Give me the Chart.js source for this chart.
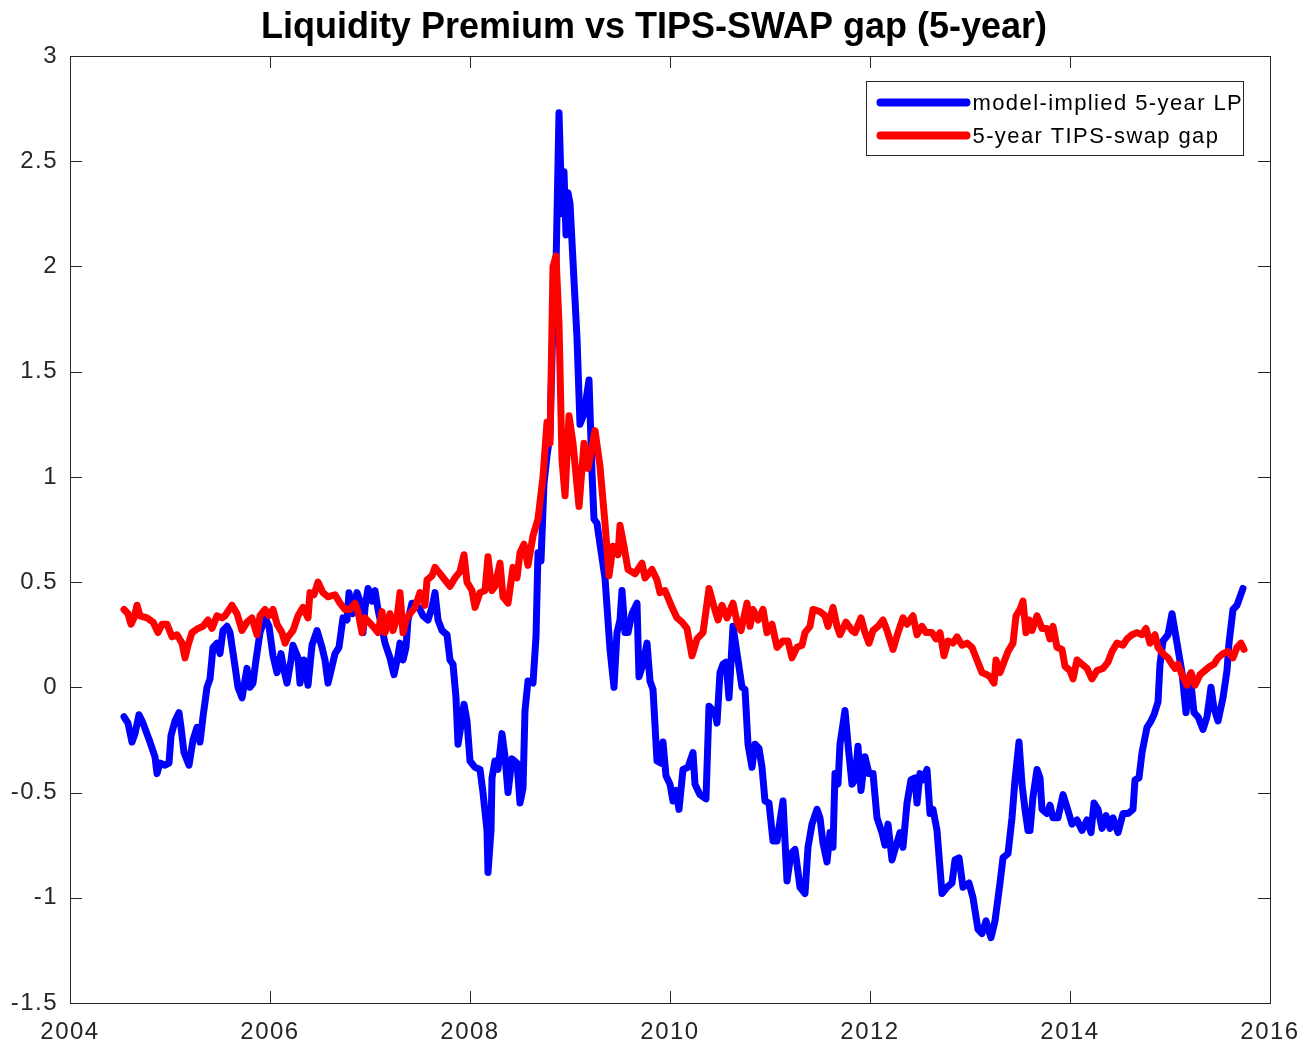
<!DOCTYPE html>
<html>
<head>
<meta charset="utf-8">
<script src="https://cdn.jsdelivr.net/npm/chart.js@4/dist/chart.umd.min.js"></script>
<style>
  html, body { margin: 0; padding: 0; background: #fff; }
  #wrap { width: 1308px; height: 1047px; position: relative; }
</style>
</head>
<body>
<div id="wrap"><canvas id="chart"></canvas></div>
<script>
// ── data (decimal years, percentage points) ─────────────────
const lpYears = [
  2004.54, 2004.58, 2004.62, 2004.65, 2004.69, 2004.73, 2004.80, 2004.85, 2004.87, 2004.90,
  2004.95, 2004.99, 2005.01, 2005.05, 2005.09, 2005.11, 2005.14, 2005.19, 2005.23, 2005.27,
  2005.30, 2005.33, 2005.37, 2005.40, 2005.43, 2005.47, 2005.50, 2005.53, 2005.57, 2005.60,
  2005.65, 2005.68, 2005.72, 2005.77, 2005.80, 2005.83, 2005.86, 2005.90, 2005.95, 2005.99,
  2006.03, 2006.07, 2006.11, 2006.14, 2006.17, 2006.21, 2006.23, 2006.28, 2006.30, 2006.34,
  2006.38, 2006.42, 2006.47, 2006.52, 2006.55, 2006.58, 2006.65, 2006.69, 2006.73, 2006.77,
  2006.79, 2006.83, 2006.87, 2006.90, 2006.93, 2006.95, 2006.98, 2007.02, 2007.05, 2007.08,
  2007.15, 2007.20, 2007.24, 2007.28, 2007.30, 2007.33, 2007.36, 2007.38, 2007.42, 2007.45,
  2007.50, 2007.53, 2007.58, 2007.62, 2007.65, 2007.68, 2007.72, 2007.77, 2007.80, 2007.83,
  2007.86, 2007.88, 2007.92, 2007.94, 2007.97, 2008.00, 2008.05, 2008.10, 2008.13, 2008.17,
  2008.18, 2008.21, 2008.22, 2008.25, 2008.28, 2008.32, 2008.35, 2008.38, 2008.42, 2008.47,
  2008.50, 2008.53, 2008.55, 2008.58, 2008.63, 2008.66, 2008.68, 2008.71, 2008.74, 2008.77,
  2008.80, 2008.83, 2008.86, 2008.89, 2008.92, 2008.94, 2008.96, 2008.98, 2009.00, 2009.07,
  2009.10, 2009.14, 2009.19, 2009.22, 2009.24, 2009.27, 2009.30, 2009.35, 2009.40, 2009.44,
  2009.47, 2009.50, 2009.52, 2009.55, 2009.58, 2009.62, 2009.67, 2009.69, 2009.73, 2009.77,
  2009.80, 2009.83, 2009.87, 2009.91, 2009.93, 2009.96, 2010.00, 2010.03, 2010.06, 2010.09,
  2010.13, 2010.18, 2010.23, 2010.25, 2010.30, 2010.36, 2010.39, 2010.45, 2010.47, 2010.50,
  2010.53, 2010.56, 2010.59, 2010.63, 2010.68, 2010.72, 2010.75, 2010.78, 2010.82, 2010.85,
  2010.89, 2010.92, 2010.95, 2010.99, 2011.03, 2011.07, 2011.13, 2011.17, 2011.21, 2011.25,
  2011.30, 2011.35, 2011.38, 2011.42, 2011.47, 2011.50, 2011.53, 2011.57, 2011.60, 2011.63,
  2011.65, 2011.68, 2011.70, 2011.75, 2011.78, 2011.82, 2011.85, 2011.88, 2011.91, 2011.95,
  2011.99, 2012.03, 2012.07, 2012.12, 2012.15, 2012.18, 2012.22, 2012.25, 2012.30, 2012.33,
  2012.37, 2012.41, 2012.45, 2012.47, 2012.50, 2012.53, 2012.57, 2012.60, 2012.63, 2012.67,
  2012.70, 2012.72, 2012.77, 2012.82, 2012.85, 2012.89, 2012.93, 2012.99, 2013.03, 2013.08,
  2013.12, 2013.16, 2013.21, 2013.25, 2013.30, 2013.33, 2013.38, 2013.42, 2013.45, 2013.49,
  2013.52, 2013.55, 2013.58, 2013.60, 2013.63, 2013.67, 2013.70, 2013.72, 2013.77, 2013.80,
  2013.83, 2013.88, 2013.93, 2013.97, 2014.02, 2014.07, 2014.12, 2014.17, 2014.21, 2014.24,
  2014.28, 2014.32, 2014.36, 2014.40, 2014.43, 2014.48, 2014.53, 2014.58, 2014.63, 2014.65,
  2014.69, 2014.72, 2014.77, 2014.81, 2014.84, 2014.88, 2014.90, 2014.93, 2014.98, 2015.02,
  2015.07, 2015.12, 2015.16, 2015.20, 2015.24, 2015.28, 2015.33, 2015.37, 2015.41, 2015.44,
  2015.48, 2015.53, 2015.57, 2015.59, 2015.63, 2015.67, 2015.73,
];
const lpValues = [
  -0.14, -0.17, -0.26, -0.22, -0.13, -0.17, -0.26, -0.33, -0.41, -0.36,
  -0.37, -0.36, -0.23, -0.16, -0.12, -0.19, -0.31, -0.37, -0.25, -0.19,
  -0.26, -0.14,  0.00,  0.04,  0.19,  0.21,  0.16,  0.27,  0.29,  0.26,
   0.10,  0.00, -0.05,  0.09,  0.00,  0.02,  0.13,  0.26,  0.33,  0.29,
   0.15,  0.07,  0.16,  0.08,  0.02,  0.13,  0.20,  0.14,  0.02,  0.13,
   0.01,  0.20,  0.27,  0.19,  0.13,  0.02,  0.16,  0.19,  0.33,  0.32,
   0.45,  0.35,  0.45,  0.41,  0.26,  0.38,  0.47,  0.41,  0.46,  0.37,
   0.21,  0.14,  0.06,  0.15,  0.21,  0.13,  0.19,  0.32,  0.40,  0.40,
   0.37,  0.34,  0.32,  0.38,  0.45,  0.32,  0.27,  0.25,  0.13,  0.11,
  -0.05, -0.27, -0.15, -0.08, -0.16, -0.35, -0.38, -0.39, -0.50, -0.68,
  -0.88, -0.68, -0.43, -0.35, -0.39, -0.22, -0.33, -0.50, -0.34, -0.36,
  -0.55, -0.48, -0.11,  0.03,  0.02,  0.24,  0.64,  0.60,  0.97,  1.10,
   1.20,  1.75,  2.00,  2.73,  2.25,  2.45,  2.15,  2.35,  2.30,  1.66,
   1.25,  1.30,  1.46,  1.02,  0.80,  0.78,  0.68,  0.52,  0.18,  0.00,
   0.26,  0.32,  0.46,  0.26,  0.26,  0.35,  0.40,  0.05,  0.11,  0.21,
   0.03, -0.01, -0.35, -0.36, -0.26, -0.42, -0.46, -0.54, -0.49, -0.58,
  -0.39, -0.38, -0.31, -0.46, -0.51, -0.53, -0.09, -0.12, -0.17,  0.07,
   0.11,  0.12, -0.05,  0.29,  0.13,  0.00, -0.01, -0.27, -0.38, -0.27,
  -0.29, -0.38, -0.54, -0.55, -0.73, -0.73, -0.54, -0.92, -0.79, -0.77,
  -0.95, -0.98, -0.76, -0.65, -0.58, -0.62, -0.74, -0.83, -0.69, -0.76,
  -0.41, -0.46, -0.27, -0.11, -0.27, -0.46, -0.44, -0.28, -0.49, -0.33,
  -0.41, -0.41, -0.62, -0.69, -0.75, -0.65, -0.82, -0.77, -0.69, -0.76,
  -0.55, -0.44, -0.43, -0.55, -0.41, -0.44, -0.39, -0.60, -0.58, -0.68,
  -0.86, -0.98, -0.95, -0.93, -0.82, -0.81, -0.95, -0.93, -1.00, -1.15,
  -1.17, -1.11, -1.19, -1.11, -0.93, -0.81, -0.79, -0.62, -0.44, -0.26,
  -0.46, -0.58, -0.68, -0.68, -0.52, -0.39, -0.43, -0.58, -0.60, -0.56,
  -0.62, -0.62, -0.51, -0.57, -0.65, -0.63, -0.68, -0.63, -0.69, -0.55,
  -0.58, -0.67, -0.61, -0.67, -0.62, -0.69, -0.60, -0.60, -0.58, -0.44,
  -0.43, -0.31, -0.19, -0.16, -0.13, -0.07,  0.11,  0.22,  0.25,  0.35,
   0.21,  0.07, -0.12,  0.06, -0.12, -0.14, -0.20, -0.14,  0.00, -0.10,
  -0.16, -0.05,  0.08,  0.21,  0.37,  0.39,  0.47,
];

const gapYears = [
  2004.54, 2004.58, 2004.61, 2004.64, 2004.67, 2004.70, 2004.77, 2004.83, 2004.88, 2004.92,
  2004.97, 2005.02, 2005.07, 2005.12, 2005.15, 2005.18, 2005.22, 2005.28, 2005.33, 2005.38,
  2005.42, 2005.47, 2005.52, 2005.55, 2005.62, 2005.67, 2005.72, 2005.77, 2005.82, 2005.87,
  2005.90, 2005.95, 2005.99, 2006.03, 2006.07, 2006.12, 2006.15, 2006.18, 2006.23, 2006.28,
  2006.33, 2006.38, 2006.40, 2006.44, 2006.48, 2006.53, 2006.58, 2006.65, 2006.70, 2006.75,
  2006.80, 2006.85, 2006.88, 2006.92, 2006.95, 2006.99, 2007.03, 2007.08, 2007.12, 2007.15,
  2007.20, 2007.23, 2007.27, 2007.30, 2007.33, 2007.36, 2007.40, 2007.45, 2007.50, 2007.55,
  2007.57, 2007.62, 2007.65, 2007.70, 2007.75, 2007.80, 2007.85, 2007.90, 2007.94, 2007.97,
  2008.02, 2008.05, 2008.10, 2008.15, 2008.18, 2008.22, 2008.25, 2008.30, 2008.33, 2008.38,
  2008.43, 2008.47, 2008.50, 2008.54, 2008.58, 2008.63, 2008.68, 2008.73, 2008.77, 2008.80,
  2008.83, 2008.86, 2008.89, 2008.92, 2008.95, 2008.99, 2009.03, 2009.09, 2009.14, 2009.18,
  2009.25, 2009.30, 2009.35, 2009.39, 2009.43, 2009.48, 2009.50, 2009.54, 2009.58, 2009.65,
  2009.72, 2009.75, 2009.82, 2009.87, 2009.90, 2009.95, 2010.02, 2010.07, 2010.12, 2010.17,
  2010.22, 2010.27, 2010.33, 2010.39, 2010.43, 2010.48, 2010.52, 2010.57, 2010.63, 2010.67,
  2010.71, 2010.77, 2010.80, 2010.83, 2010.88, 2010.93, 2010.97, 2011.02, 2011.07, 2011.13,
  2011.18, 2011.22, 2011.27, 2011.32, 2011.35, 2011.40, 2011.43, 2011.50, 2011.55, 2011.58,
  2011.63, 2011.67, 2011.70, 2011.76, 2011.82, 2011.85, 2011.91, 2011.95, 2011.99, 2012.03,
  2012.08, 2012.13, 2012.17, 2012.23, 2012.28, 2012.33, 2012.37, 2012.43, 2012.47, 2012.52,
  2012.56, 2012.62, 2012.66, 2012.70, 2012.74, 2012.78, 2012.83, 2012.87, 2012.92, 2012.97,
  2013.02, 2013.07, 2013.12, 2013.17, 2013.20, 2013.24, 2013.26, 2013.30, 2013.34, 2013.38,
  2013.43, 2013.46, 2013.50, 2013.53, 2013.56, 2013.59, 2013.62, 2013.67, 2013.72, 2013.77,
  2013.80, 2013.83, 2013.87, 2013.92, 2013.95, 2014.00, 2014.03, 2014.07, 2014.12, 2014.17,
  2014.22, 2014.27, 2014.33, 2014.38, 2014.42, 2014.47, 2014.53, 2014.57, 2014.62, 2014.67,
  2014.72, 2014.76, 2014.80, 2014.85, 2014.88, 2014.93, 2014.98, 2015.02, 2015.05, 2015.08,
  2015.12, 2015.17, 2015.21, 2015.25, 2015.30, 2015.35, 2015.40, 2015.44, 2015.48, 2015.53,
  2015.58, 2015.63, 2015.67, 2015.71, 2015.74,
];
const gapValues = [
  0.37, 0.35, 0.30, 0.33, 0.39, 0.34, 0.33, 0.31, 0.26, 0.30,
  0.30, 0.24, 0.25, 0.21, 0.14, 0.20, 0.26, 0.28, 0.29, 0.32,
  0.28, 0.34, 0.33, 0.34, 0.39, 0.35, 0.27, 0.31, 0.33, 0.25,
  0.34, 0.37, 0.34, 0.37, 0.30, 0.26, 0.21, 0.24, 0.27, 0.34,
  0.38, 0.33, 0.45, 0.44, 0.50, 0.45, 0.43, 0.44, 0.40, 0.37,
  0.37, 0.40, 0.36, 0.26, 0.33, 0.31, 0.29, 0.26, 0.36, 0.26,
  0.35, 0.27, 0.33, 0.45, 0.26, 0.32, 0.35, 0.38, 0.45, 0.39,
  0.51, 0.53, 0.57, 0.54, 0.51, 0.48, 0.52, 0.55, 0.63, 0.50,
  0.46, 0.38, 0.45, 0.46, 0.62, 0.46, 0.48, 0.59, 0.43, 0.40,
  0.57, 0.52, 0.64, 0.68, 0.58, 0.72, 0.80, 1.00, 1.26, 1.16,
  2.00, 2.05, 1.73, 1.08, 0.91, 1.29, 1.16, 0.86, 1.16, 1.04,
  1.22, 1.05, 0.78, 0.53, 0.67, 0.63, 0.77, 0.67, 0.56, 0.54,
  0.59, 0.52, 0.56, 0.51, 0.45, 0.46, 0.38, 0.33, 0.31, 0.28,
  0.15, 0.23, 0.26, 0.47, 0.40, 0.32, 0.39, 0.33, 0.40, 0.31,
  0.27, 0.40, 0.29, 0.37, 0.32, 0.37, 0.26, 0.30, 0.19, 0.22,
  0.22, 0.14, 0.19, 0.20, 0.26, 0.29, 0.37, 0.36, 0.34, 0.29,
  0.38, 0.29, 0.25, 0.31, 0.27, 0.26, 0.33, 0.26, 0.21, 0.27,
  0.29, 0.32, 0.27, 0.18, 0.26, 0.33, 0.30, 0.34, 0.25, 0.29,
  0.26, 0.26, 0.23, 0.26, 0.15, 0.22, 0.21, 0.24, 0.20, 0.21,
  0.19, 0.13, 0.07, 0.06, 0.05, 0.02, 0.13, 0.07, 0.12, 0.17,
  0.21, 0.34, 0.37, 0.41, 0.26, 0.32, 0.27, 0.34, 0.28, 0.28,
  0.23, 0.29, 0.19, 0.18, 0.10, 0.08, 0.04, 0.13, 0.11, 0.09,
  0.04, 0.08, 0.09, 0.12, 0.17, 0.21, 0.20, 0.23, 0.25, 0.26,
  0.25, 0.28, 0.21, 0.25, 0.19, 0.16, 0.14, 0.11, 0.09, 0.11,
  0.06, 0.01, 0.07, 0.01, 0.06, 0.08, 0.10, 0.11, 0.14, 0.16,
  0.17, 0.14, 0.19, 0.21, 0.18,
];

const chartTitle = "Liquidity Premium vs TIPS-SWAP gap (5-year)";
const seriesLabels = ["model-implied 5-year LP", "5-year TIPS-swap gap"];
const seriesColors = ["#0000FF", "#FF0000"];
const xTicks = [2004, 2006, 2008, 2010, 2012, 2014, 2016];
const yTicks = [-1.5, -1, -0.5, 0, 0.5, 1, 1.5, 2, 2.5, 3];

const FONT = "'Liberation Sans', Arial, sans-serif";
const toPoints = (xs, ys) => xs.map((x, i) => ({ x, y: ys[i] }));

// MATLAB text is rendered a little wider than Arial: add some tracking
const wideText = {
  id: "wideText",
  beforeDraw(chart) { chart.ctx.letterSpacing = "1.5px"; },
};

// ── MATLAB-style title, box, inward ticks and legend ────────
const boxAndLegend = {
  id: "boxAndLegend",
  afterDatasetsDraw(chart) {
    const { ctx, chartArea: a, scales: { x, y } } = chart;
    const tick = 12;
    ctx.save();
    ctx.strokeStyle = "#262626";
    ctx.lineWidth = 1;
    ctx.strokeRect(Math.round(a.left) + 0.5, Math.round(a.top) + 0.5,
                   Math.round(a.width), Math.round(a.height));
    ctx.beginPath();
    xTicks.forEach(v => {
      const px = Math.round(x.getPixelForValue(v)) + 0.5;
      ctx.moveTo(px, a.bottom); ctx.lineTo(px, a.bottom - tick);
      ctx.moveTo(px, a.top);    ctx.lineTo(px, a.top + tick);
    });
    yTicks.forEach(v => {
      const py = Math.round(y.getPixelForValue(v)) + 0.5;
      ctx.moveTo(a.left, py);  ctx.lineTo(a.left + tick, py);
      ctx.moveTo(a.right, py); ctx.lineTo(a.right - tick, py);
    });
    ctx.stroke();

    // title
    ctx.letterSpacing = "0px";
    ctx.font = "bold 36px " + FONT;
    ctx.fillStyle = "#000";
    ctx.textAlign = "left";
    ctx.textBaseline = "middle";
    const tw = ctx.measureText(chartTitle).width;
    ctx.fillText(chartTitle, chart.width / 2 - tw / 2, 28);

    // legend box
    const bw = 377, bh = 74;
    const bx = Math.round(a.right - 27 - bw) + 0.5;
    const by = Math.round(a.top + 25) + 0.5;
    ctx.fillStyle = "#fff";
    ctx.fillRect(bx, by, bw, bh);
    ctx.strokeRect(bx, by, bw, bh);
    ctx.font = "22px " + FONT;
    ctx.letterSpacing = "1.4px";
    ctx.lineCap = "round";
    seriesLabels.forEach((label, i) => {
      const ly = by + 21 + i * 33;
      ctx.strokeStyle = seriesColors[i];
      ctx.lineWidth = 8;
      ctx.beginPath();
      ctx.moveTo(bx + 14, ly); ctx.lineTo(bx + 100, ly);
      ctx.stroke();
      ctx.fillStyle = "#000";
      ctx.fillText(label, bx + 106, ly + 1);
    });
    ctx.restore();
  },
};

new Chart(document.getElementById("chart"), {
  type: "line",
  data: {
    datasets: [
      {
        label: seriesLabels[0],
        data: toPoints(lpYears, lpValues),
        borderColor: seriesColors[0],
        order: 2,
      },
      {
        label: seriesLabels[1],
        data: toPoints(gapYears, gapValues),
        borderColor: seriesColors[1],
        order: 1,
      },
    ],
  },
  options: {
    responsive: true,
    maintainAspectRatio: false,
    animation: false,
    layout: { padding: { top: 56, right: 38, bottom: 0, left: 0 } },
    elements: {
      point: { radius: 0 },
      line: { borderWidth: 7, tension: 0, borderJoinStyle: "round", borderCapStyle: "round", fill: false },
    },
    plugins: {
      legend: { display: false },
      tooltip: { enabled: false },
      title: { display: false },
    },
    scales: {
      x: {
        type: "linear",
        min: 2004,
        max: 2016,
        afterFit: s => { s.height = 44; s.paddingLeft = 0; s.paddingRight = 0; },
        afterBuildTicks: s => { s.ticks = xTicks.map(v => ({ value: v })); },
        grid: { display: false, drawTicks: false },
        border: { display: false },
        ticks: {
          autoSkip: false,
          maxRotation: 0,
          padding: 15,
          color: "#262626",
          font: { family: FONT, size: 24 },
          callback: v => String(v),
        },
      },
      y: {
        min: -1.5,
        max: 3,
        afterFit: s => { s.width = 70; s.paddingTop = 0; s.paddingBottom = 0; },
        afterBuildTicks: s => { s.ticks = yTicks.map(v => ({ value: v })); },
        grid: { display: false, drawTicks: false },
        border: { display: false },
        ticks: {
          padding: 12,
          color: "#262626",
          font: { family: FONT, size: 24 },
          callback: v => String(v),
        },
      },
    },
  },
  plugins: [wideText, boxAndLegend],
});
</script>
</body>
</html>
